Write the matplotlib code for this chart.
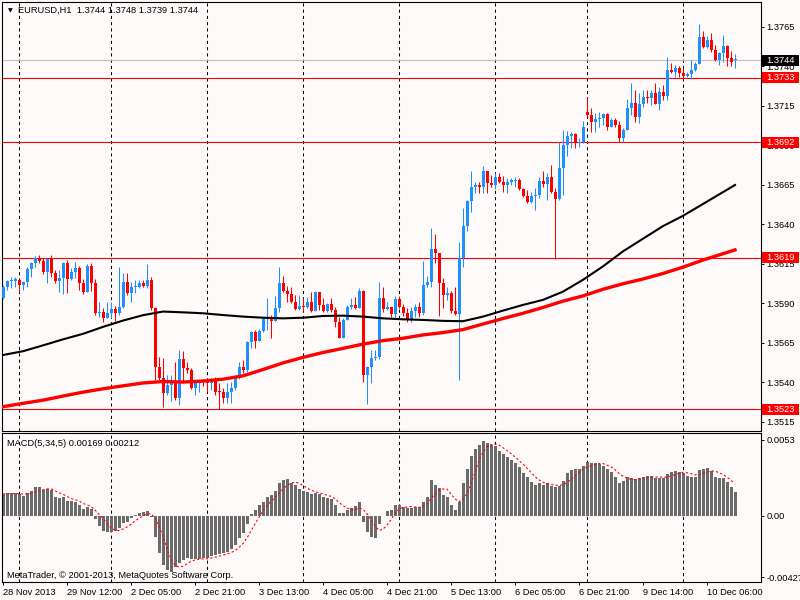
import numpy as np
import pandas as pd
import matplotlib
matplotlib.use('Agg')
import matplotlib.pyplot as plt
import matplotlib.transforms as mtransforms
from matplotlib.patches import Rectangle

plt.rcParams['font.family'] = ['Liberation Sans', 'DejaVu Sans']

# EURUSD H1 bars, 28 Nov 2013 20:00 .. 10 Dec 2013 13:00
closes = [
    1.36007, 1.36040, 1.36045, 1.36050, 1.36015, 1.36035, 1.36120, 1.36155, 1.36185, 1.36170,
    1.36100, 1.36180, 1.36095, 1.36040, 1.36060, 1.36155, 1.36055, 1.36102, 1.36123, 1.36028,
    1.35975, 1.36138, 1.36032, 1.35842, 1.35845, 1.35806, 1.35842, 1.35863, 1.35838, 1.35880,
    1.36039, 1.35969, 1.36003, 1.36007, 1.36032, 1.36011, 1.36049, 1.35870, 1.35500, 1.35427,
    1.35332, 1.35384, 1.35400, 1.35300, 1.35547, 1.35490, 1.35480, 1.35363, 1.35395, 1.35409,
    1.35405, 1.35395, 1.35416, 1.35342, 1.35338, 1.35304, 1.35340, 1.35363, 1.35437, 1.35500,
    1.35479, 1.35654, 1.35717, 1.35663, 1.35726, 1.35802, 1.35817, 1.35790, 1.35869, 1.36028,
    1.35979, 1.35958, 1.35912, 1.35865, 1.35886, 1.35879, 1.35912, 1.35853, 1.35970, 1.35890,
    1.35853, 1.35895, 1.35859, 1.35785, 1.35684, 1.35796, 1.35880, 1.35890, 1.35873, 1.35979,
    1.35447, 1.35500, 1.35553, 1.35560, 1.35933, 1.35863, 1.35880, 1.35834, 1.35927, 1.35880,
    1.35838, 1.35796, 1.35855, 1.35880, 1.35838, 1.36017, 1.36038, 1.36243, 1.36218, 1.36028,
    1.35954, 1.35964, 1.35855, 1.35834, 1.36186, 1.36391, 1.36551, 1.36640, 1.36650, 1.36636,
    1.36741, 1.36661, 1.36650, 1.36703, 1.36672, 1.36650, 1.36672, 1.36676, 1.36680, 1.36623,
    1.36581, 1.36545, 1.36581, 1.36587, 1.36678, 1.36657, 1.36703, 1.36608, 1.36560, 1.36755,
    1.36903, 1.36962, 1.36970, 1.36914, 1.36924, 1.37019, 1.37093, 1.37047, 1.37068, 1.37076,
    1.37097, 1.37019, 1.37061, 1.37030, 1.36945, 1.36998, 1.37135, 1.37167, 1.37082, 1.37160,
    1.37209, 1.37198, 1.37230, 1.37160, 1.37236, 1.37215, 1.37378, 1.37365, 1.37393, 1.37357,
    1.37342, 1.37350, 1.37378, 1.37414, 1.37589, 1.37526, 1.37568, 1.37504, 1.37441, 1.37483,
    1.37532, 1.37456, 1.37426, 1.37440]
highs = [
    1.36017, 1.36049, 1.36066, 1.36070, 1.36053, 1.36045, 1.36134, 1.36165, 1.36201, 1.36207,
    1.36186, 1.36190, 1.36205, 1.36110, 1.36110, 1.36160, 1.36175, 1.36123, 1.36165, 1.36138,
    1.36053, 1.36150, 1.36155, 1.36053, 1.35910, 1.35870, 1.35910, 1.35910, 1.35885, 1.36134,
    1.36090, 1.36095, 1.36039, 1.36049, 1.36049, 1.36049, 1.36150, 1.36070, 1.35880, 1.35560,
    1.35553, 1.35448, 1.35450, 1.35530, 1.35606, 1.35600, 1.35530, 1.35490, 1.35416, 1.35416,
    1.35420, 1.35430, 1.35426, 1.35437, 1.35395, 1.35363, 1.35395, 1.35405, 1.35447, 1.35532,
    1.35542, 1.35663, 1.35726, 1.35732, 1.35738, 1.35817, 1.35933, 1.35827, 1.35949, 1.36133,
    1.36076, 1.36013, 1.36007, 1.35954, 1.35954, 1.35933, 1.35943, 1.35970, 1.35979, 1.35975,
    1.35933, 1.35901, 1.35933, 1.35880, 1.35817, 1.35806, 1.35890, 1.35933, 1.35943, 1.35996,
    1.35985, 1.35506, 1.35606, 1.35606, 1.36039, 1.36003, 1.35912, 1.35880, 1.35948, 1.35948,
    1.35897, 1.35869, 1.35880, 1.35897, 1.35912, 1.36172, 1.36074, 1.36376, 1.36340, 1.36218,
    1.36060, 1.36007, 1.35982, 1.36007, 1.36292, 1.36503, 1.36555, 1.36740, 1.36672, 1.36672,
    1.36770, 1.36741, 1.36714, 1.36724, 1.36724, 1.36707, 1.36693, 1.36693, 1.36703, 1.36693,
    1.36629, 1.36619, 1.36608, 1.36630, 1.36699, 1.36741, 1.36728, 1.36777, 1.36630, 1.36924,
    1.36998, 1.36992, 1.36985, 1.36980, 1.36950, 1.37055, 1.37209, 1.37135, 1.37104, 1.37110,
    1.37104, 1.37104, 1.37072, 1.37076, 1.37055, 1.37009, 1.37194, 1.37293, 1.37251, 1.37230,
    1.37251, 1.37251, 1.37251, 1.37293, 1.37272, 1.37283, 1.37462, 1.37420, 1.37410, 1.37405,
    1.37393, 1.37368, 1.37441, 1.37430, 1.37667, 1.37625, 1.37595, 1.37610, 1.37536, 1.37494,
    1.37599, 1.37536, 1.37498, 1.37480]
lows = [
    1.35927, 1.35986, 1.35996, 1.36007, 1.35975, 1.35986, 1.36003, 1.36070, 1.36134, 1.36159,
    1.36085, 1.36030, 1.36065, 1.36030, 1.35975, 1.35960, 1.35965, 1.36049, 1.36060, 1.35986,
    1.35960, 1.35975, 1.35982, 1.35828, 1.35817, 1.35785, 1.35806, 1.35806, 1.35792, 1.35828,
    1.35870, 1.35954, 1.35912, 1.35965, 1.35996, 1.36007, 1.35996, 1.35860, 1.35416, 1.35416,
    1.35247, 1.35321, 1.35280, 1.35290, 1.35258, 1.35395, 1.35457, 1.35359, 1.35321, 1.35342,
    1.35380, 1.35340, 1.35352, 1.35321, 1.35232, 1.35268, 1.35268, 1.35268, 1.35352, 1.35422,
    1.35458, 1.35469, 1.35620, 1.35616, 1.35660, 1.35722, 1.35732, 1.35684, 1.35790, 1.35848,
    1.35971, 1.35912, 1.35901, 1.35859, 1.35860, 1.35853, 1.35869, 1.35848, 1.35853, 1.35859,
    1.35844, 1.35844, 1.35848, 1.35753, 1.35680, 1.35684, 1.35796, 1.35865, 1.35865, 1.35873,
    1.35405, 1.35262, 1.35395, 1.35540, 1.35547, 1.35849, 1.35859, 1.35817, 1.35817, 1.35870,
    1.35821, 1.35785, 1.35785, 1.35817, 1.35817, 1.35828, 1.36007, 1.36007, 1.36155, 1.35821,
    1.35870, 1.35922, 1.35838, 1.35828, 1.35416, 1.36134, 1.36361, 1.36482, 1.36598, 1.36598,
    1.36602, 1.36602, 1.36640, 1.36623, 1.36661, 1.36608, 1.36598, 1.36650, 1.36636, 1.36619,
    1.36577, 1.36539, 1.36534, 1.36492, 1.36566, 1.36640, 1.36555, 1.36598, 1.36182, 1.36555,
    1.36587, 1.36836, 1.36882, 1.36886, 1.36893, 1.36915, 1.37082, 1.36988, 1.36984, 1.37019,
    1.37030, 1.36998, 1.37019, 1.37019, 1.36924, 1.36924, 1.36998, 1.37093, 1.37051, 1.37040,
    1.37146, 1.37167, 1.37156, 1.37160, 1.37125, 1.37188, 1.37188, 1.37357, 1.37336, 1.37336,
    1.37321, 1.37336, 1.37321, 1.37372, 1.37414, 1.37515, 1.37515, 1.37494, 1.37435, 1.37410,
    1.37431, 1.37405, 1.37405, 1.37390]
# opens follow the previous close except at these bars
gap_opens = {0: 1.35933, 146: 1.37114, 183: 1.37440}

# moving averages read every 5 bars
ma_index = list(range(0, 181, 5)) + [183]
ma_black = [1.35574, 1.35598, 1.35635, 1.35673, 1.35708, 1.35752, 1.35792, 1.35826, 1.35849, 1.35844,
            1.35838, 1.35827, 1.35817, 1.35810, 1.35806, 1.35810, 1.35821, 1.35823, 1.35817, 1.35806,
            1.35800, 1.35796, 1.35790, 1.35788, 1.35817, 1.35855, 1.35891, 1.35923, 1.35975, 1.36050,
            1.36135, 1.36230, 1.36310, 1.36390, 1.36455, 1.36530, 1.36605, 1.36650]
ma_red = [1.35247, 1.35268, 1.35288, 1.35314, 1.35339, 1.35360, 1.35379, 1.35397, 1.35406, 1.35403,
          1.35409, 1.35421, 1.35442, 1.35482, 1.35524, 1.35559, 1.35590, 1.35616, 1.35643, 1.35665,
          1.35680, 1.35701, 1.35716, 1.35735, 1.35770, 1.35805, 1.35838, 1.35875, 1.35915, 1.35948,
          1.35990, 1.36025, 1.36055, 1.36090, 1.36130, 1.36175, 1.36215, 1.36239]

# MACD(5,34,5) main histogram
macd = [0.00153, 0.00158, 0.00158, 0.00158, 0.00151, 0.00142, 0.00158, 0.00177, 0.00200, 0.00200,
        0.00181, 0.00186, 0.00181, 0.00135, 0.00123, 0.00135, 0.00107, 0.00107, 0.00100, 0.00077,
        0.00046, 0.00060, 0.00049, -0.00023, -0.00070, -0.00102, -0.00109, -0.00109, -0.00102, -0.00086,
        -0.00046, -0.00039, -0.00016, 0.00007, 0.00019, 0.00028, 0.00035, -0.00009, -0.00144, -0.00256,
        -0.00341, -0.00376, -0.00388, -0.00353, -0.00325, -0.00307, -0.00295, -0.00302, -0.00302, -0.00302,
        -0.00295, -0.00290, -0.00279, -0.00272, -0.00265, -0.00260, -0.00249, -0.00232, -0.00202, -0.00156,
        -0.00121, -0.00056, 0.00014, 0.00042, 0.00077, 0.00100, 0.00135, 0.00146, 0.00177, 0.00232,
        0.00251, 0.00256, 0.00228, 0.00216, 0.00186, 0.00177, 0.00170, 0.00153, 0.00158, 0.00153,
        0.00135, 0.00123, 0.00116, 0.00077, 0.00023, 0.00023, 0.00042, 0.00053, 0.00070, 0.00100,
        -0.00039, -0.00109, -0.00144, -0.00156, -0.00056, 0.00003, 0.00037, 0.00042, 0.00077, 0.00077,
        0.00065, 0.00053, 0.00058, 0.00060, 0.00060, 0.00100, 0.00135, 0.00251, 0.00216, 0.00193,
        0.00146, 0.00135, 0.00077, 0.00042, 0.00100, 0.00228, 0.00325, 0.00418, 0.00465, 0.00495,
        0.00523, 0.00511, 0.00495, 0.00488, 0.00455, 0.00432, 0.00414, 0.00390, 0.00367, 0.00339,
        0.00302, 0.00274, 0.00239, 0.00216, 0.00228, 0.00216, 0.00228, 0.00209, 0.00200, 0.00209,
        0.00246, 0.00302, 0.00321, 0.00325, 0.00325, 0.00348, 0.00379, 0.00372, 0.00367, 0.00362,
        0.00348, 0.00325, 0.00309, 0.00274, 0.00228, 0.00246, 0.00269, 0.00263, 0.00256, 0.00263,
        0.00274, 0.00279, 0.00279, 0.00263, 0.00263, 0.00263, 0.00293, 0.00309, 0.00316, 0.00309,
        0.00297, 0.00279, 0.00274, 0.00274, 0.00321, 0.00325, 0.00332, 0.00316, 0.00274, 0.00263,
        0.00263, 0.00239, 0.00204, 0.00170]

price_ticks = [1.3765, 1.3740, 1.3715, 1.3690, 1.3665, 1.3640, 1.3615, 1.3590, 1.3565, 1.3540, 1.3515]
levels = [1.3733, 1.3692, 1.3619, 1.3523]
bid = 1.3744
day_sep = [4, 27, 51, 75, 99, 123, 146, 170]
time_pos = [0, 16, 32, 48, 64, 80, 96, 112, 128, 144, 160, 176]
time_labels = ['28 Nov 2013', '29 Nov 12:00', '2 Dec 05:00', '2 Dec 21:00', '3 Dec 13:00',
               '4 Dec 05:00', '4 Dec 21:00', '5 Dec 13:00', '6 Dec 05:00', '6 Dec 21:00',
               '9 Dec 14:00', '10 Dec 06:00']
macd_ticks = [0.0053, 0.0, -0.00427]
macd_tick_labels = ['0.0053', '0.00', '-0.00427']

n = len(closes)
opens = [gap_opens[0]] + closes[:-1]
for k, v in gap_opens.items():
    opens[k] = v

x = np.arange(n)
o = np.array(opens)
c = np.array(closes)
h = np.array(highs)
l = np.array(lows)
cols = np.where(c >= o, '#1e90ff', '#ff0000')

bg = '#fffafa'
fs = 6.7
fig = plt.figure(figsize=(8, 6), dpi=100, facecolor=bg)
ax = fig.add_axes([2 / 800, 169 / 600, 759 / 800, 429 / 600], facecolor=bg)
ax2 = fig.add_axes([2 / 800, 18 / 600, 759 / 800, 149 / 600], facecolor=bg)

# day separators
for a in (ax, ax2):
    for d in day_sep:
        a.axvline(d, color='black', lw=0.75, ls=(0, (3, 3)), zorder=1)

# levels
ax.axhline(bid, color='#c0c0c0', lw=0.8, zorder=1.5)
for p in levels:
    ax.axhline(p, color='red', lw=0.8, zorder=2)

# candles
ax.vlines(x, l, h, colors=cols, lw=0.75, zorder=3)
body_lo = np.minimum(o, c)
body_h = np.maximum(np.abs(c - o), 0.00007)
ax.bar(x, body_h, bottom=body_lo, width=0.75, color=cols, linewidth=0, zorder=3)

ax.plot(ma_index, ma_black, color='black', lw=1.5, zorder=4)
ax.plot(ma_index, ma_red, color='red', lw=2.4, zorder=4)

ax.set_xlim(-0.25, 189.5)
ax.set_ylim(1.35093, 1.378082)
ax.set_xticks([])
ax.yaxis.tick_right()
ax.set_yticks(price_ticks)
ax.set_yticklabels(['%.4f' % t for t in price_ticks])
ax.tick_params(axis='y', direction='out', length=2.5, width=0.7, pad=1.5, labelsize=fs, colors='black')

# price boxes on the right scale
bt = mtransforms.blended_transform_factory(fig.transFigure, ax.transData)
box_h = 11 / 15800
for p, fc in [(bid, 'black')] + [(lv, 'red') for lv in levels]:
    r = Rectangle((762 / 800, p - box_h / 2), 37 / 800, box_h, transform=bt,
                  facecolor=fc, edgecolor='none', clip_on=False, zorder=5)
    ax.add_patch(r)
    ax.text(766 / 800, p, '%.4f' % p, transform=bt, color='white', fontsize=fs,
            ha='left', va='center', zorder=6, clip_on=False)

# MACD panel
ax2.bar(x, macd, width=0.75, color='#6b6b6b', linewidth=0, zorder=2)
signal = pd.Series(macd).rolling(5, min_periods=1).mean()
ax2.plot(x, signal, color='red', lw=0.8, ls=(0, (2, 2)), zorder=3)
ax2.set_xlim(-0.25, 189.5)
ax2.set_ylim(-0.004603, 0.005788)
ax2.yaxis.tick_right()
ax2.set_yticks(macd_ticks)
ax2.set_yticklabels(macd_tick_labels)
ax2.set_xticks(time_pos)
ax2.set_xticklabels(time_labels, ha='left')
ax2.tick_params(axis='both', direction='out', length=2.5, width=0.7, pad=1.5, labelsize=fs, colors='black')

for a in (ax, ax2):
    for s in a.spines.values():
        s.set_color('black')
        s.set_linewidth(0.8)

fig.text(10 / 800, 1 - 11 / 600, '\u25bc', fontsize=4.5, ha='center', va='center', family='DejaVu Sans')
fig.text(18 / 800, 1 - 10 / 600, 'EURUSD,H1  1.3744 1.3748 1.3739 1.3744', fontsize=fs, va='center')
fig.text(7 / 800, 1 - 443 / 600, 'MACD(5,34,5) 0.00169 0.00212', fontsize=fs, va='center')
fig.text(7 / 800, 1 - 575 / 600, 'MetaTrader, \u00a9 2001-2013, MetaQuotes Software Corp.', fontsize=fs, va='center')

fig.savefig('out.png', dpi=100, facecolor=bg)
